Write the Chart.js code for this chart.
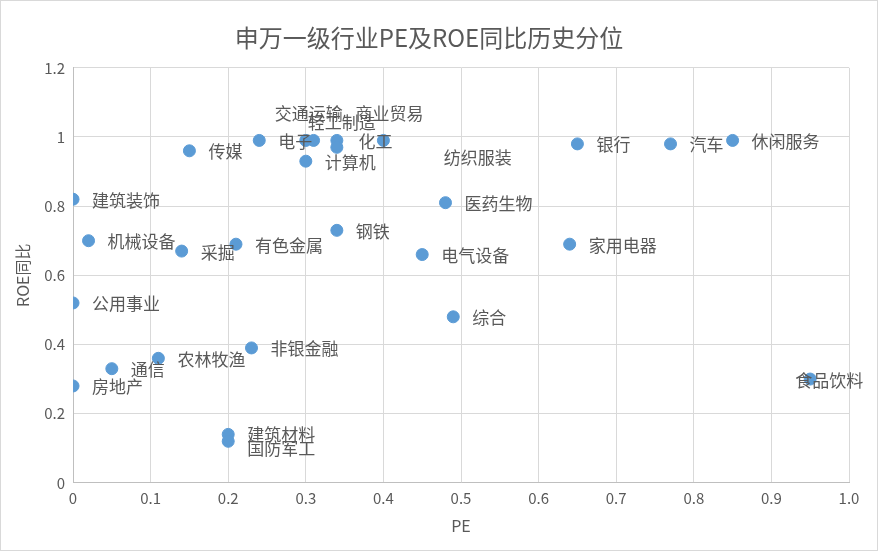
<!DOCTYPE html>
<html><head><meta charset="utf-8">
<script src="https://cdn.jsdelivr.net/npm/chart.js@4/dist/chart.umd.min.js"></script>
<style>html,body{margin:0;background:#fff}#w{width:878px;height:551px;box-sizing:border-box;border:1px solid #d9d9d9}canvas{display:block}</style>
</head><body><div id="w"><canvas id="c" width="876" height="549"></canvas></div>
<script>
const industries=["建筑装饰","公用事业","房地产","机械设备","通信","农林牧渔","采掘","传媒","有色金属","非银金融","建筑材料","国防军工","电子","交通运输","商业贸易","计算机","轻工制造","纺织服装","化工","钢铁","电气设备","医药生物","综合","家用电器","银行","汽车","休闲服务","食品饮料"];
const peValues=[0,0,0,0.02,0.05,0.11,0.14,0.15,0.21,0.23,0.20,0.20,0.24,0.30,0.31,0.30,0.34,0.34,0.40,0.34,0.45,0.48,0.49,0.64,0.65,0.77,0.85,0.95];
const roeValues=[0.82,0.52,0.28,0.70,0.33,0.36,0.67,0.96,0.69,0.39,0.14,0.12,0.99,0.99,0.99,0.93,0.99,0.97,0.99,0.73,0.66,0.81,0.48,0.69,0.98,0.98,0.99,0.30];
const xTicks=[0,0.1,0.2,0.3,0.4,0.5,0.6,0.7,0.8,0.9,1];
const yTicks=[0,0.2,0.4,0.6,0.8,1,1.2];
// label offsets (px) for manually moved labels
const labelShift={"交通运输":[-31,-28],"商业贸易":[42,-28],"轻工制造":[-29,-19],"化工":[-25,0],"纺织服装":[107,9],"食品饮料":[-15,0],"国防军工":[19,6],"建筑材料":[19,-1]};
const labelPlugin={id:'lbl',afterDatasetsDraw(ch){const ctx=ch.ctx;const m=ch.getDatasetMeta(0);ctx.save();ctx.font='17px "Noto Sans CJK SC"';ctx.fillStyle='#595959';ctx.textBaseline='middle';ctx.textAlign='left';
m.data.forEach((p,i)=>{const n=industries[i];const s=labelShift[n]||[19,0];ctx.fillText(n,p.x+s[0],p.y+s[1]+1);});ctx.restore();}};
new Chart(document.getElementById('c'),{type:'scatter',
data:{datasets:[{data:peValues.map((x,i)=>({x,y:roeValues[i]})),backgroundColor:'#5b9bd5',borderColor:'#5b9bd5',pointRadius:6,pointHoverRadius:6}]},
options:{responsive:false,animation:false,devicePixelRatio:1,
layout:{padding:{left:8,right:28,top:4,bottom:10}},
plugins:{legend:{display:false},tooltip:{enabled:false},title:{display:true,text:'申万一级行业PE及ROE同比历史分位',color:'#595959',font:{size:24,family:'"Noto Sans CJK SC"',weight:'normal'},padding:{top:18,bottom:16}}},
scales:{x:{type:'linear',min:0,max:1,afterBuildTicks:a=>{a.ticks=xTicks.map(v=>({value:v}))},ticks:{color:'#595959',font:{size:15,family:'"Noto Sans CJK SC"'},padding:6},grid:{color:'#d9d9d9',drawTicks:false},border:{color:'#bfbfbf'},title:{display:true,text:'PE',color:'#595959',font:{size:16,family:'"Noto Sans CJK SC"'}}},
y:{min:0,max:1.2,afterBuildTicks:a=>{a.ticks=yTicks.map(v=>({value:v}))},ticks:{color:'#595959',font:{size:15,family:'"Noto Sans CJK SC"'},padding:8,callback:v=>String(v)},grid:{color:'#d9d9d9',drawTicks:false},border:{color:'#bfbfbf'},title:{display:true,text:'ROE同比',color:'#595959',font:{size:16,family:'"Noto Sans CJK SC"'}}}}},
plugins:[labelPlugin]});
</script>
</body></html>
